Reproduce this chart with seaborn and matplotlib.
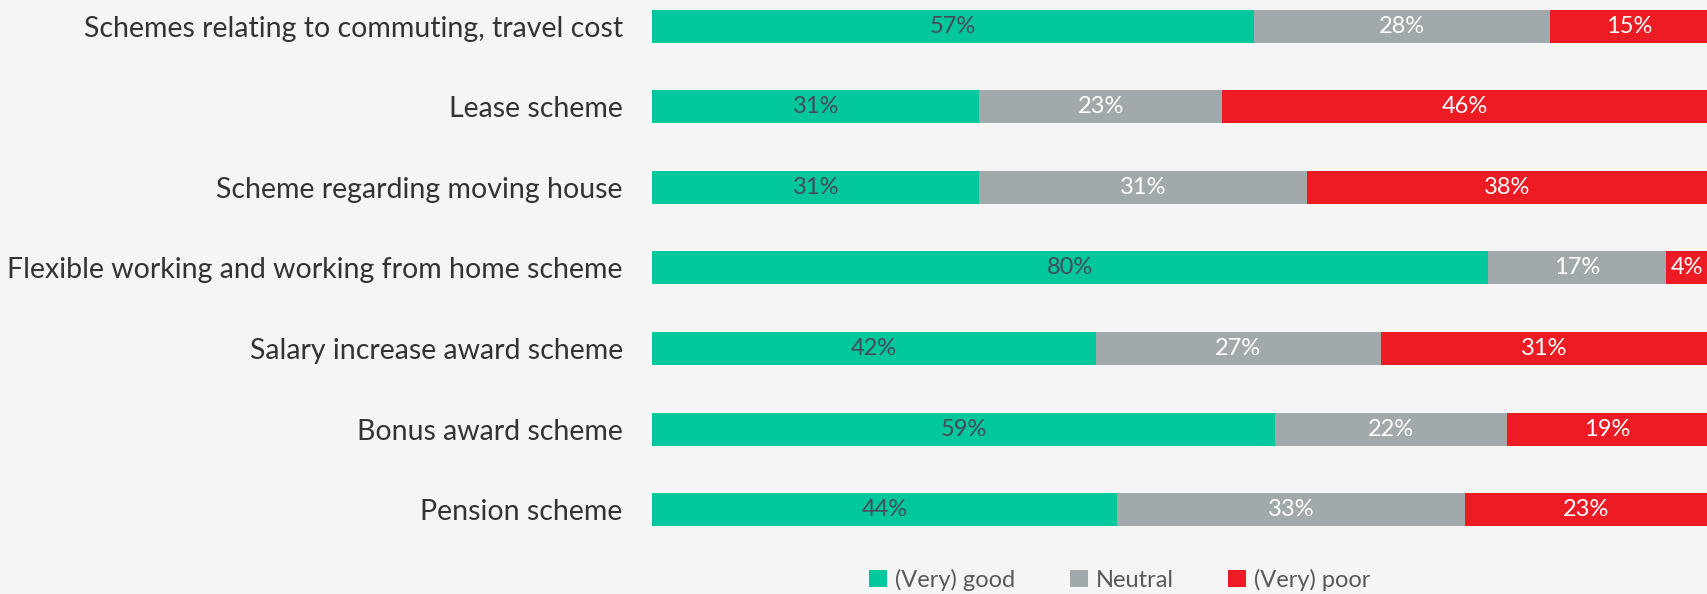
import matplotlib
matplotlib.use("Agg")
import matplotlib.pyplot as plt
import seaborn as sns
import pandas as pd
import numpy as np
from matplotlib.patches import Patch

# Survey data: appreciation of employment schemes (%)
categories = [
    "Schemes relating to commuting, travel cost",
    "Lease scheme",
    "Scheme regarding moving house",
    "Flexible working and working from home scheme",
    "Salary increase award scheme",
    "Bonus award scheme",
    "Pension scheme",
]
good = [57, 31, 31, 80, 42, 59, 44]
neutral = [28, 23, 31, 17, 27, 22, 33]
poor = [15, 46, 38, 4, 31, 19, 23]
series_names = ["(Very) good", "Neutral", "(Very) poor"]

C_GOOD = "#00C89C"
C_NEUTRAL = "#A2A9AB"
C_POOR = "#ED1C24"
BG = "#F5F5F5"

sns.set_theme(style="white")
plt.rcParams["font.family"] = ["Lato", "DejaVu Sans"]

df = pd.DataFrame({"category": categories, "good": good,
                   "neutral": neutral, "poor": poor})
total = df[["good", "neutral", "poor"]].sum(axis=1)
# shares of each row, stacked as cumulative widths
df["s_good"] = df["good"] / total * 100
df["s_neutral"] = df["neutral"] / total * 100
df["s_poor"] = df["poor"] / total * 100
df["cum1"] = df["s_good"]
df["cum2"] = df["s_good"] + df["s_neutral"]
df["cum3"] = df["cum2"] + df["s_poor"]

fig = plt.figure(figsize=(17.08, 5.94), dpi=100, facecolor=BG)
ax = fig.add_axes([652 / 1708, 1 - 550 / 594, 1 - 652 / 1708, 548 / 594])
ax.set_facecolor(BG)

bw = 0.41
sns.barplot(data=df, y="category", x="cum3", color=C_POOR, width=bw,
            saturation=1, ax=ax, orient="h")
sns.barplot(data=df, y="category", x="cum2", color=C_NEUTRAL, width=bw,
            saturation=1, ax=ax, orient="h")
sns.barplot(data=df, y="category", x="cum1", color=C_GOOD, width=bw,
            saturation=1, ax=ax, orient="h")
for p in ax.patches:
    p.set_edgecolor("none")

# value labels centred in each segment
for i, row in df.iterrows():
    starts = [0, row["cum1"], row["cum2"]]
    widths = [row["s_good"], row["s_neutral"], row["s_poor"]]
    vals = [row["good"], row["neutral"], row["poor"]]
    colors = ["#474A5A", "white", "white"]
    for s, w, v, c in zip(starts, widths, vals, colors):
        ax.text(s + w / 2, i, f"{v}%", ha="center", va="center",
                fontsize=17, color=c)

ax.set_xlim(0, 100)
ax.set_ylim(6.5, -0.3)
ax.set_xlabel("")
ax.set_ylabel("")
ax.set_xticks([])
ax.tick_params(axis="y", length=0, pad=21, labelsize=20.5, labelcolor="#333333")
for s in ax.spines.values():
    s.set_visible(False)

handles = [Patch(facecolor=c, edgecolor="none") for c in (C_GOOD, C_NEUTRAL, C_POOR)]
leg = fig.legend(handles, series_names, loc="center",
                 bbox_to_anchor=(1120 / 1708, 1 - 580 / 594), ncol=3,
                 frameon=False, fontsize=17, handlelength=0.75, handleheight=0.75,
                 handletextpad=0.35, columnspacing=2.3)
for t in leg.get_texts():
    t.set_color("#595959")

fig.savefig("out.png", dpi=100, facecolor=BG)
